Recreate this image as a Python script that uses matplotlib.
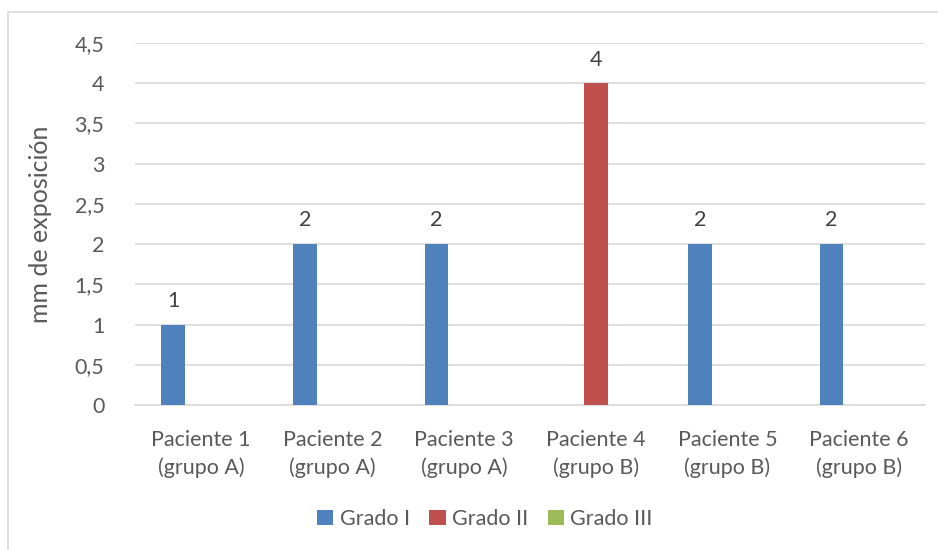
import numpy as np
import matplotlib.pyplot as plt
from matplotlib.patches import Rectangle

# datos
pacientes = ['Paciente 1\n(grupo A)', 'Paciente 2\n(grupo A)', 'Paciente 3\n(grupo A)',
             'Paciente 4\n(grupo B)', 'Paciente 5\n(grupo B)', 'Paciente 6\n(grupo B)']
grado_1 = [1, 2, 2, np.nan, 2, 2]
grado_2 = [np.nan, np.nan, np.nan, 4, np.nan, np.nan]
grado_3 = [np.nan] * 6
series = ['Grado I', 'Grado II', 'Grado III']
colores = ['#4F81BD', '#C0504D', '#9BBB59']

plt.rcParams['font.family'] = ['Lato', 'DejaVu Sans']
gris = '#595959'
fs = 15.5

fig = plt.figure(figsize=(9.38, 5.5), dpi=100)
ax = fig.add_axes([135 / 938, 1 - 405 / 550, 790 / 938, 362 / 550])

# marco del grafico
fig.patches.append(Rectangle((8 / 938, -0.05), 1.0, 1 - 12 / 550 + 0.05,
                             transform=fig.transFigure, fill=False,
                             edgecolor='#d9d9d9', linewidth=1.2))

x = np.arange(len(pacientes))
ancho = 0.18
desp = 0.21
for i, (vals, nombre, col) in enumerate(zip([grado_1, grado_2, grado_3], series, colores)):
    pos = x + (i - 1) * desp
    ax.bar(pos, vals, ancho, color=col, label=nombre, zorder=3)
    for p, v in zip(pos, vals):
        if not np.isnan(v):
            ax.text(p, v + 0.17, f'{v:g}', ha='center', va='bottom',
                    fontsize=fs, color='#404040')

ax.set_xlim(-0.5, len(pacientes) - 0.5)
ax.set_ylim(0, 4.5)
yt = np.arange(0, 4.51, 0.5)
ax.set_yticks(yt)
ax.set_yticklabels([f'{v:g}'.replace('.', ',') for v in yt])
ax.set_xticks(x)
ax.set_xticklabels(pacientes, linespacing=1.45)
ax.grid(axis='y', color='#d9d9d9', linewidth=1.2, zorder=0)
for s in ['top', 'right', 'left']:
    ax.spines[s].set_visible(False)
ax.spines['bottom'].set_color('#d9d9d9')
ax.spines['bottom'].set_linewidth(1.2)
ax.tick_params(axis='both', length=0, labelsize=fs, colors=gris)
ax.tick_params(axis='y', pad=22)
ax.tick_params(axis='x', pad=18)
ax.set_ylabel('mm de exposición', fontsize=18, color=gris, labelpad=16)

fig.legend(loc='center', bbox_to_anchor=(485 / 938, 1 - 519 / 550), ncol=3,
           frameon=False, fontsize=fs, labelcolor=gris, handlelength=0.75,
           handleheight=0.75, handletextpad=0.3, columnspacing=0.9)

plt.savefig('out.png', dpi=100)
